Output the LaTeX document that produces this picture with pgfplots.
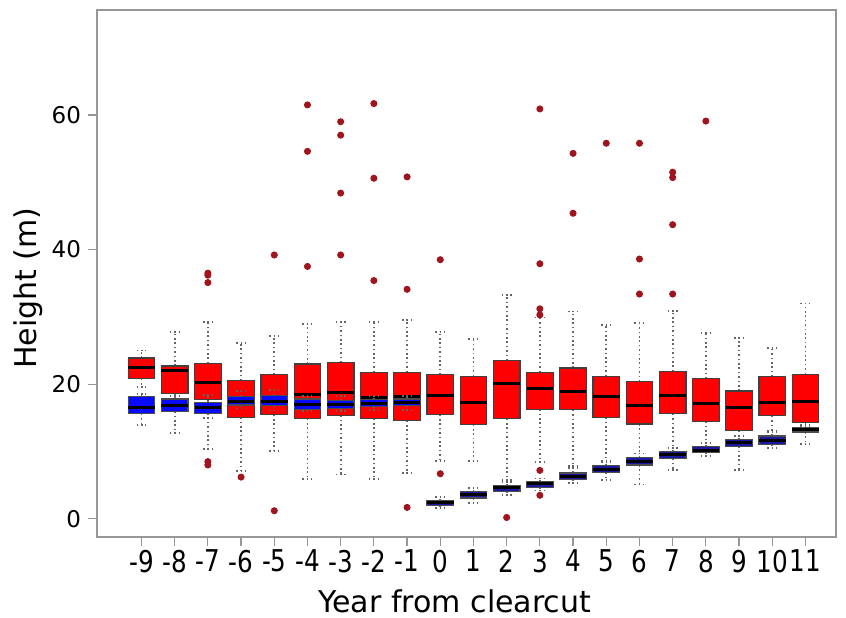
\documentclass[border=0pt]{standalone}
\usepackage{fontspec}
\setmainfont{DejaVu Sans}
\usepackage{pgfplots}
\usepgfplotslibrary{statistics}
\pgfplotsset{compat=1.18}

\definecolor{bxred}{RGB}{255,0,0}
\definecolor{bxblue}{RGB}{10,10,250}
\definecolor{bxnavy}{RGB}{25,25,165}
\definecolor{outl}{RGB}{160,20,30}
\definecolor{frame}{RGB}{150,150,150}

\pgfplotsset{
  bp/.style 2 args={
    solid, draw=black!75, line width=0.5pt,
    mark=*, mark size=1.5pt, mark options={solid, draw=outl, fill=outl},
    boxplot/draw direction=y,
    boxplot/box extend=0.8,
    boxplot/whisker extend=0.3,
    boxplot/every box/.style={solid, fill=#1, draw=#2, line width=0.6pt},
    boxplot/every whisker/.style={dash pattern=on 0.8pt off 1.4pt, draw=black!60, line width=0.9pt},
    boxplot/every median/.style={solid, draw=black, line width=1.5pt},
  },
}

% position, lower whisker, lower quartile, median, upper quartile, upper whisker, outliers
\newcommand{\redbox}[7]{\addplot[bp={bxred}{black!75}, boxplot prepared={draw position=#1,
  lower whisker=#2, lower quartile=#3, median=#4, upper quartile=#5, upper whisker=#6}] coordinates {#7};}
\newcommand{\bluebox}[7]{\addplot[bp={#7}{black!70}, boxplot prepared={draw position=#1,
  lower whisker=#2, lower quartile=#3, median=#4, upper quartile=#5, upper whisker=#6}] coordinates {};}
\newcommand{\xl}[1]{\scalebox{0.82}[1]{#1}}

\begin{document}
\begin{tikzpicture}
\begin{axis}[
  scale only axis,
  width=369.5pt, height=263.5pt,
  xmin=-10.34, xmax=11.92,
  ymin=-2.7, ymax=75.6,
  xtick={-9,-8,-7,-6,-5,-4,-3,-2,-1,0,1,2,3,4,5,6,7,8,9,10,11},
  xticklabels={\xl{-9},\xl{-8},\xl{-7},\xl{-6},\xl{-5},\xl{-4},\xl{-3},\xl{-2},\xl{-1},
    \xl{0},\xl{1},\xl{2},\xl{3},\xl{4},\xl{5},\xl{6},\xl{7},\xl{8},\xl{9},\xl{10},\xl{11}},
  ytick={0,20,40,60},
  xtick pos=bottom, ytick pos=left,
  tick align=outside,
  major tick length=4.5pt,
  tick style={draw=frame, line width=0.6pt},
  axis line style={draw=frame, line width=0.8pt},
  /pgf/number format/assume math mode=true,
  yticklabel style={font=\fontsize{11.5}{12}\selectfont, text=black},
  xticklabel style={font=\fontsize{15}{16}\selectfont, text=black, yshift=1.5pt},
  xlabel={Year from clearcut},
  ylabel={Height (m)},
  label style={font=\fontsize{15}{16}\selectfont},
  xlabel style={at={(axis description cs:0.484,0)}, anchor=base, yshift=-37.5pt},
  ylabel style={at={(axis description cs:-0.093,0.472)}, anchor=center},
]
\redbox{-9}{19.6}{20.8}{22.5}{23.9}{25.0}{}
\redbox{-8}{18.3}{18.6}{22.0}{22.7}{27.8}{}
\redbox{-7}{10.4}{17.7}{20.2}{23.1}{29.3}{(-7,8.0) (-7,8.5) (-7,35.1) (-7,36.2) (-7,36.5)}
\redbox{-6}{7.1}{15.1}{17.6}{20.5}{26.1}{(-6,6.2)}
\redbox{-5}{10.1}{15.5}{17.9}{21.4}{27.2}{(-5,1.2) (-5,39.2)}
\redbox{-4}{5.9}{14.9}{18.5}{23.0}{29.0}{(-4,37.5) (-4,54.6) (-4,61.5)}
\redbox{-3}{6.6}{15.4}{18.8}{23.2}{29.3}{(-3,39.2) (-3,48.4) (-3,57.0) (-3,59.0)}
\redbox{-2}{5.9}{14.9}{18.0}{21.8}{29.3}{(-2,35.4) (-2,50.6) (-2,61.7)}
\redbox{-1}{6.8}{14.6}{18.2}{21.8}{29.6}{(-1,1.7) (-1,34.1) (-1,50.8)}
\redbox{0}{8.6}{15.5}{18.3}{21.4}{27.8}{(0,6.7) (0,38.5)}
\redbox{1}{8.6}{14.0}{17.3}{21.2}{26.7}{}
\redbox{2}{5.8}{14.9}{20.1}{23.5}{33.3}{(2,0.2)}
\redbox{3}{8.4}{16.3}{19.3}{21.8}{29.9}{(3,3.5) (3,7.2) (3,30.3) (3,31.2) (3,37.9) (3,60.9)}
\redbox{4}{7.9}{16.2}{18.9}{22.4}{30.8}{(4,45.4) (4,54.3)}
\redbox{5}{8.6}{15.1}{18.2}{21.2}{28.8}{(5,55.8)}
\redbox{6}{9.7}{14.1}{16.9}{20.4}{29.1}{(6,33.4) (6,38.6) (6,55.8)}
\redbox{7}{10.6}{15.6}{18.3}{21.9}{30.9}{(7,33.4) (7,43.7) (7,50.7) (7,51.5)}
\redbox{8}{11.3}{14.5}{17.2}{20.8}{27.6}{(8,59.1)}
\redbox{9}{12.3}{13.1}{16.5}{19.0}{26.9}{}
\redbox{10}{13.0}{15.3}{17.3}{21.1}{25.4}{}
\redbox{11}{13.9}{14.3}{17.4}{21.5}{32.0}{}
\bluebox{-9}{14.0}{15.6}{16.5}{18.2}{18.5}{bxblue}
\bluebox{-8}{12.7}{16.0}{16.8}{17.8}{18.2}{bxblue}
\bluebox{-7}{15.0}{15.6}{16.5}{17.3}{18.4}{bxblue}
\bluebox{-6}{16.4}{16.9}{17.5}{18.2}{19.0}{bxblue}
\bluebox{-5}{16.1}{16.8}{17.5}{18.3}{19.2}{bxblue}
\bluebox{-4}{16.0}{16.3}{17.0}{17.8}{18.3}{bxblue}
\bluebox{-3}{16.0}{16.4}{17.0}{17.6}{18.2}{bxblue}
\bluebox{-2}{16.2}{16.7}{17.2}{17.7}{18.2}{bxblue}
\bluebox{-1}{16.2}{16.8}{17.3}{17.8}{18.3}{bxblue}
\bluebox{0}{1.6}{2.0}{2.4}{2.7}{3.3}{bxnavy}
\bluebox{1}{2.4}{3.1}{3.6}{4.1}{4.6}{bxnavy}
\bluebox{2}{3.5}{4.1}{4.6}{5.0}{5.5}{bxnavy}
\bluebox{3}{4.2}{4.7}{5.2}{5.5}{6.0}{bxnavy}
\bluebox{4}{5.3}{5.8}{6.3}{6.8}{7.6}{bxnavy}
\bluebox{5}{5.8}{6.9}{7.4}{7.9}{8.4}{bxnavy}
\bluebox{6}{5.1}{8.0}{8.5}{9.1}{9.7}{bxnavy}
\bluebox{7}{7.2}{9.0}{9.5}{10.0}{10.5}{bxnavy}
\bluebox{8}{9.3}{9.8}{10.2}{10.7}{11.2}{bxnavy}
\bluebox{9}{7.3}{10.8}{11.3}{11.8}{12.3}{bxnavy}
\bluebox{10}{10.5}{11.1}{11.7}{12.3}{12.9}{bxnavy}
\bluebox{11}{11.1}{12.9}{13.2}{13.5}{13.8}{bxnavy}
\end{axis}
\pgfresetboundingbox
\path (current axis.south west) ++(-48.5pt,-40pt) rectangle ++(423pt,308.5pt);
\end{tikzpicture}
\end{document}
